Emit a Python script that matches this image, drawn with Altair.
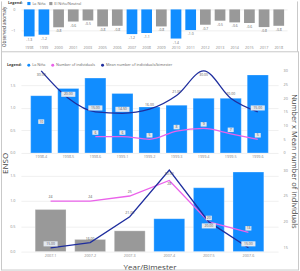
import altair as alt
import pandas as pd

# ---------------- data ----------------
years = ["1998", "1999", "2000", "2001", "2003", "2005", "2006", "2007", "2008",
         "2009", "2010", "2011", "2012", "2013", "2014", "2015", "2017", "2018"]
anomaly = [-1.27, -1.19, -0.84, -0.57, -0.52, -0.80, -0.77, -1.16, -1.11,
           -0.80, -1.37, -0.97, -0.72, -0.53, -0.61, -0.64, -0.83, -0.77]
la_nina_years = ["1998", "1999", "2007", "2008", "2010", "2011"]

mid_cats = ["1998.4", "1998.5", "1998.6", "1999.1", "1999.2", "1999.3", "1999.4", "1999.5", "1999.6"]
mid_enso = [1.27, 1.43, 1.66, 1.32, 1.02, 1.06, 1.21, 1.21, 1.73]
mid_phase = ["La Niña"] * 9
mid_count = [10, None, 6, 6, 5, 8, 9, 7, 5]
mid_mean = [30.0, 20.0, 15.0, 14.5, 16.0, 21.0, 30.0, 20.0, 15.0]

bot_cats = ["2007.1", "2007.2", "2007.3", "2007.4", "2007.5", "2007.6"]
bot_enso = [0.83, 0.24, 0.41, 0.65, 1.26, 1.57]
bot_phase = ["El Niño/Neutral"] * 3 + ["La Niña"] * 3
bot_count = [24, 24, 25, 28, 20, 18]
bot_mean = [15.0, 16.0, 21.0, 30.0, 20.0, 15.0]

# ---------------- style ----------------
BLUE = "#118DFF"
GRAY = "#999999"
MAGENTA = "#EA62EA"
NAVY = "#1F2E9E"
FRAME = "#c9c9c9"
FONT = "Open Sans"
S_COUNT = "Number of individuals"
S_MEAN = "Mean number of individuals/bimester"
LIFT = 4
TOP_BAND = 16
BOX_FILL = "#e2e8f0"
BOX_SHAPES = {"long": ("M-1,-0.36H1V0.36H-1Z", 200), "short": ("M-1,-0.75H1V0.75H-1Z", 36)}
AXIS_LABEL = dict(labelFontSize=3.8, labelColor="#8a8a8a", labelFont=FONT, ticks=False, domain=False)


def frame_rule(x, y, x2=None, y2=None):
    enc = {"x": alt.value(x), "y": alt.value(y)}
    if x2 is not None:
        enc["x2"] = alt.value(x2)
    if y2 is not None:
        enc["y2"] = alt.value(y2)
    return alt.Chart(pd.DataFrame({"k": [0]})).mark_rule(color=FRAME, strokeWidth=1).encode(**enc)


# ---------------- top panel ----------------
top_df = pd.DataFrame({"year": years, "anomaly": anomaly})
top_df["phase"] = ["La Niña" if y in la_nina_years else "El Niño/Neutral" for y in years]
top_df["label"] = [f"{v:.1f}" for v in anomaly]

top_x = alt.X("year:N", sort=years, scale=alt.Scale(paddingInner=0.27, paddingOuter=0.2),
              axis=alt.Axis(title=None, labelAngle=0, labelPadding=4, grid=False, **AXIS_LABEL))
top_y = alt.Y("anomaly:Q", scale=alt.Scale(domain=[-1.5, 0], nice=False),
              axis=alt.Axis(values=[0, -1], title="Observed anomaly", titleFontSize=4.6,
                            titleColor="#333", titleFontWeight="normal", titleFont=FONT,
                            titleAngle=270, titleX=-16, titleY=17, titleAlign="center",
                            titleBaseline="middle", gridColor="#eeeeee", labelPadding=6, **AXIS_LABEL))
top_color = alt.Color("phase:N",
                      scale=alt.Scale(domain=["La Niña", "El Niño/Neutral"], range=[BLUE, GRAY]),
                      legend=alt.Legend(orient="none", legendX=-13, legendY=-8, direction="horizontal",
                                        title="Legend:", titleOrient="left", titleFontSize=3.8,
                                        titleFont=FONT, titleColor="#333", labelFontSize=3.8,
                                        labelFont=FONT, labelColor="#666", symbolType="square",
                                        symbolSize=10, symbolStrokeWidth=0, columnPadding=3,
                                        titlePadding=4, labelOffset=1.5))
top_bars = alt.Chart(top_df).mark_bar().encode(x=top_x, y=top_y, color=top_color)
top_text = alt.Chart(top_df).mark_text(baseline="top", dy=2, fontSize=3.4, color="#666", font=FONT).encode(
    x=top_x, y=top_y, text="label:N")
top_frame = [
    frame_rule(-19.5, -8, y2=42.5),
    frame_rule(277.5, -8, y2=42.5),
    frame_rule(-20, 42.5, x2=278),
]
top = alt.layer(top_bars, top_text, *top_frame).properties(width=267, height=32)


# ---------------- combo panels ----------------
def panel(cats, enso, phases, count, mean, lmax, rdomain, rvalues, height, interp,
          cdomain, crange, legend, x_axis, left_axis_extra, right_axis_extra, extras=()):
    bar_df = pd.DataFrame({"cat": cats, "enso": enso, "phase": phases})

    def px(v):
        return (v - rdomain[0]) / (rdomain[1] - rdomain[0]) * height

    rows = []
    for i, c in enumerate(cats):
        # labels: push the lower of two colliding labels below its point,
        # and any label that would reach the legend band at the top below as well
        cv, mv = count[i], mean[i]
        down = set()
        if cv is not None and mv is not None and abs(px(cv) - px(mv)) < 7:
            down.add(S_COUNT if cv < mv else S_MEAN)
        for s, v, fmt in [(S_COUNT, cv, "{:.0f}"), (S_MEAN, mv, "{:.2f}")]:
            if v is None:
                rows.append({"cat": c, "series": s, "value": None, "label": "", "box": "none", "dir": "up"})
                continue
            lab = fmt.format(v)
            d = "down" if (s in down or px(v) + LIFT > height - TOP_BAND) else "up"
            label_px = px(v) + (-LIFT if d == "down" else LIFT)
            bar_px = enso[i] / lmax * height
            box = ("long" if len(lab) > 2 else "short") if label_px < bar_px - 1 else "none"
            rows.append({"cat": c, "series": s, "value": v, "label": lab, "box": box, "dir": d})
    line_df = pd.DataFrame(rows)

    x = alt.X("cat:N", sort=cats, scale=alt.Scale(paddingInner=0.22, paddingOuter=0.36),
              axis=alt.Axis(labelAngle=0, labelPadding=2, grid=False, **x_axis, **AXIS_LABEL))
    color_scale = alt.Scale(domain=cdomain, range=crange)
    yl = alt.Y("enso:Q", scale=alt.Scale(domain=[0, lmax], nice=False, zero=True),
               axis=alt.Axis(values=[0, 0.5, 1, 1.5], format=".1f", gridColor="#f0f0f0",
                             labelPadding=6, **left_axis_extra, **AXIS_LABEL))
    yr = alt.Y("value:Q", scale=alt.Scale(domain=rdomain, nice=False, zero=False),
               axis=alt.Axis(orient="right", values=rvalues, grid=False, labelPadding=5,
                             **right_axis_extra, **AXIS_LABEL))
    bars = alt.Chart(bar_df).mark_bar(stroke="#ffffff", strokeOpacity=0.35, strokeWidth=0.8).encode(
        x=x, y=yl, color=alt.Color("phase:N", scale=color_scale, legend=legend))
    line = alt.Chart(line_df).mark_line(interpolate=interp, strokeWidth=1.3,
                                        invalid="break-paths-show-domains").encode(
        x=x, y=yr, color=alt.Color("series:N", scale=color_scale, legend=legend))
    valid = alt.Chart(line_df).transform_filter("isValid(datum.value)")
    label_layers = []
    for d, off in [("up", -LIFT), ("down", LIFT)]:
        for kind, (shape, size) in BOX_SHAPES.items():
            label_layers.append(
                valid.transform_filter(f"datum.box == '{kind}' && datum.dir == '{d}'").mark_point(
                    shape=shape, size=size, filled=True, color=BOX_FILL, opacity=1, yOffset=off
                ).encode(x=x, y=yr))
    for d, off in [("up", -LIFT), ("down", LIFT)]:
        label_layers.append(
            valid.transform_filter(f"datum.dir == '{d}'").mark_text(
                fontSize=3.5, color="#555", font=FONT, dy=off, baseline="middle"
            ).encode(x=x, y=yr, text="label:N"))
    inner = alt.layer(line, *label_layers)
    return alt.layer(bars, inner, *extras).resolve_scale(y="independent").properties(width=258, height=height)


mid_legend = alt.Legend(orient="none", legendX=-14, legendY=10, direction="horizontal",
                        title="Legend:", titleOrient="left", titleFontSize=3.8, titleFont=FONT,
                        titleColor="#333", labelFontSize=3.8, labelFont=FONT, labelColor="#666",
                        symbolType="circle", symbolSize=9, symbolStrokeWidth=0, columnPadding=5,
                        titlePadding=5, labelOffset=1.5, labelLimit=200)
mid = panel(mid_cats, mid_enso, mid_phase, mid_count, mid_mean,
            lmax=2.21, rdomain=[0, 36.46], rvalues=[0, 5, 10, 15, 20, 25, 30], height=100,
            interp="monotone",
            cdomain=["La Niña", S_COUNT, S_MEAN], crange=[BLUE, MAGENTA, NAVY], legend=mid_legend,
            x_axis=dict(title=None), left_axis_extra=dict(title=None), right_axis_extra=dict(title=None))

bot_frame = [
    frame_rule(-19.5, -114, y2=105.5),
    frame_rule(278.5, -114, y2=105.5),
    frame_rule(-20, 105.5, x2=279),
]
bot = panel(bot_cats, bot_enso, bot_phase, bot_count, bot_mean,
            lmax=1.711, rdomain=[14.27, 31.0], rvalues=[15, 20, 25, 30], height=87,
            interp="linear",
            cdomain=["La Niña", "El Niño/Neutral", S_COUNT, S_MEAN],
            crange=[BLUE, GRAY, MAGENTA, NAVY], legend=None,
            x_axis=dict(title="Year/Bimester", titleFontSize=8, titleColor="#444", titleFont=FONT,
                        titleFontWeight="normal", titlePadding=6),
            left_axis_extra=dict(title="ENSO", titleFontSize=8, titleColor="#444", titleFont=FONT,
                                 titleFontWeight="normal", titleAngle=270, titleX=-15, titleY=-2,
                                 titleAlign="center", titleBaseline="middle"),
            right_axis_extra=dict(title="Number x Mean number of individuals", titleFontSize=7.5,
                                  titleColor="#444", titleFont=FONT, titleFontWeight="normal",
                                  titleAngle=90, titleX=15, titleY=-4, titleAlign="center",
                                  titleBaseline="middle"),
            extras=bot_frame)

chart = alt.vconcat(top, mid, bot, spacing=12, bounds="flush").resolve_scale(
    color="independent", x="independent", y="independent"
).properties(padding={"left": 0, "top": 0, "right": 0, "bottom": 0}, background="white").configure_view(stroke=None)

chart.save("out.html", embed_options={"renderer": "svg", "actions": False})
